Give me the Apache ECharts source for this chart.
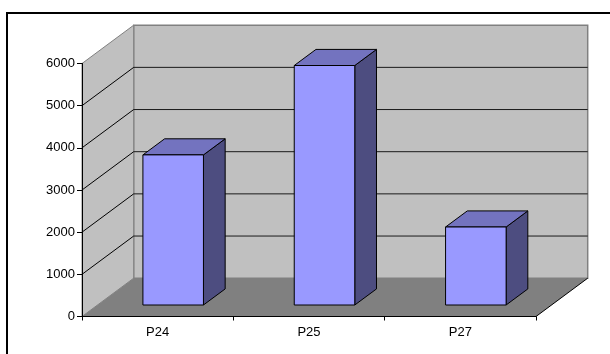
<!DOCTYPE html>
<html>
<head>
<meta charset="utf-8">
<script src="https://cdn.jsdelivr.net/npm/echarts@6/dist/echarts.min.js"></script>
<style>
  html, body { margin: 0; padding: 0; background: #fff; }
  #chart { width: 610px; height: 354px; }
</style>
</head>
<body>
<div id="chart"></div>
<script>
  // data
  var categories = ['P24', 'P25', 'P27']
  var values = [3560, 5680, 1850]
  var yTicks = [0, 1000, 2000, 3000, 4000, 5000, 6000]

  // 3d look: offset of the back wall from the front plane
  var DX = 51.7
  var DY = -38.3
  var FRONT = 0.3
  var BACK = 0.72
  var BAR_FRAC = 0.4

  var FONT = 'Liberation Sans, Arial, sans-serif'

  function renderWalls(params, api) {
    var cs = params.coordSys
    var x0 = cs.x, x1 = cs.x + cs.width
    var yTop = cs.y, yBot = cs.y + cs.height
    var kids = []
    // back wall
    kids.push({
      type: 'polygon',
      shape: {points: [[x0 + DX, yTop + DY], [x1 + DX, yTop + DY], [x1 + DX, yBot + DY], [x0 + DX, yBot + DY]]},
      style: {fill: '#c0c0c0', stroke: '#808080', lineWidth: 1.5}
    })
    // side wall
    kids.push({
      type: 'polygon',
      shape: {points: [[x0, yBot], [x0, yTop], [x0 + DX, yTop + DY], [x0 + DX, yBot + DY]]},
      style: {fill: '#c0c0c0', stroke: '#808080', lineWidth: 1}
    })
    // floor
    kids.push({
      type: 'polygon',
      shape: {points: [[x0, yBot], [x1, yBot], [x1 + DX, yBot + DY], [x0 + DX, yBot + DY]]},
      style: {fill: '#808080'}
    })
    kids.push({
      type: 'line',
      shape: {x1: x1, y1: yBot, x2: x1 + DX, y2: yBot + DY},
      style: {stroke: '#000', lineWidth: 1}
    })
    // grid lines on back wall and side wall
    yTicks.forEach(function (v) {
      if (v === yTicks[0] || v === yTicks[yTicks.length - 1]) {
        return
      }
      var y = api.coord([0, v])[1]
      kids.push({
        type: 'line',
        shape: {x1: x0 + DX, y1: y + DY, x2: x1 + DX, y2: y + DY},
        style: {stroke: '#1a1a1a', lineWidth: 1}
      })
      kids.push({
        type: 'line',
        shape: {x1: x0, y1: y, x2: x0 + DX, y2: y + DY},
        style: {stroke: '#000', lineWidth: 1}
      })
    })
    return {type: 'group', children: kids}
  }

  function renderBar(params, api) {
    var i = api.value(0)
    var v = api.value(1)
    var base = api.coord([i, 0])
    var top = api.coord([i, v])
    var bw = api.size([1, 0])[0] * BAR_FRAC
    var xa = base[0] - bw / 2 + DX * FRONT
    var xb = xa + bw
    var yb = base[1] + DY * FRONT
    var yt = top[1] + DY * FRONT
    var ddx = DX * (BACK - FRONT)
    var ddy = DY * (BACK - FRONT)
    var edge = {stroke: '#000', lineWidth: 1}
    return {
      type: 'group',
      children: [
        {
          type: 'polygon',
          shape: {points: [[xb, yb], [xb, yt], [xb + ddx, yt + ddy], [xb + ddx, yb + ddy]]},
          style: Object.assign({fill: '#4d4d80'}, edge)
        },
        {
          type: 'polygon',
          shape: {points: [[xa, yt], [xb, yt], [xb + ddx, yt + ddy], [xa + ddx, yt + ddy]]},
          style: Object.assign({fill: '#7373bf'}, edge)
        },
        {
          type: 'polygon',
          shape: {points: [[xa, yb], [xb, yb], [xb, yt], [xa, yt]]},
          style: Object.assign({fill: '#9999ff'}, edge)
        }
      ]
    }
  }

  var chart = echarts.init(document.getElementById('chart'))
  chart.setOption({
    animation: false,
    backgroundColor: '#fff',
    grid: {left: 82, right: 74, top: 63.5, bottom: 37.5},
    graphic: [
      {type: 'line', shape: {x1: 6, y1: 13, x2: 610, y2: 13}, style: {stroke: '#000', lineWidth: 2}},
      {type: 'line', shape: {x1: 7, y1: 12, x2: 7, y2: 354}, style: {stroke: '#000', lineWidth: 2}}
    ],
    xAxis: {
      type: 'category',
      data: categories,
      z: 5,
      axisLine: {lineStyle: {color: '#000', width: 1}},
      axisTick: {show: true, length: 4, alignWithLabel: false, lineStyle: {color: '#000'}},
      axisLabel: {color: '#000', fontSize: 13, fontFamily: FONT, margin: 9},
      splitLine: {show: false}
    },
    yAxis: {
      type: 'value',
      min: 0,
      max: 6000,
      interval: 1000,
      z: 5,
      axisLine: {show: true, lineStyle: {color: '#000', width: 1}},
      axisTick: {show: true, length: 5, lineStyle: {color: '#000'}},
      axisLabel: {
        color: '#000',
        fontSize: 13,
        fontFamily: FONT,
        margin: 7,
        formatter: function (v) { return String(v) }
      },
      splitLine: {show: false}
    },
    series: [
      {
        type: 'custom',
        name: 'walls',
        clip: false,
        z: 1,
        silent: true,
        data: [[0, 0]],
        renderItem: renderWalls
      },
      {
        type: 'custom',
        name: 'bars',
        clip: false,
        z: 3,
        data: values.map(function (v, i) { return [i, v] }),
        renderItem: renderBar
      }
    ]
  })
</script>
</body>
</html>
